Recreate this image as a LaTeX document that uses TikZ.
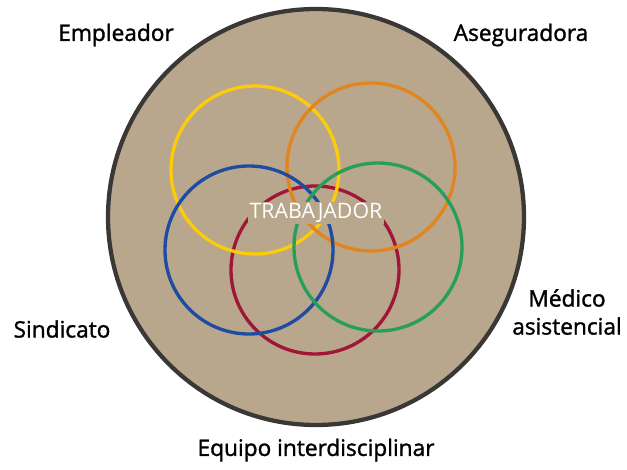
\documentclass[tikz,border=0pt]{standalone}
\usepackage{fontspec}
\setmainfont{Open Sans}
\newfontfamily\labelfont{Open Sans}[FakeBold=1.4]
\usepackage{tikz}
\usepackage{color}

\definecolor{bgbeige}{RGB}{185,167,141}
\definecolor{rimgray}{RGB}{58,56,54}
\definecolor{ringyellow}{RGB}{252,203,10}
\definecolor{ringorange}{RGB}{226,133,30}
\definecolor{ringblue}{RGB}{30,76,160}
\definecolor{ringgreen}{RGB}{40,158,92}
\definecolor{ringred}{RGB}{160,22,55}

\tikzset{
  ring/.style={line width=2.5pt},
  actor/.style={inner sep=0.75pt, font=\labelfont\fontsize{17}{21}\selectfont, align=center}
}

\begin{document}
\begin{tikzpicture}[x=0.75pt,y=0.75pt,yscale=-1,xscale=1]
\useasboundingbox (0,0) rectangle (627,470);

%Shape: Circle
\draw [draw=rimgray, line width=3.2pt, fill=bgbeige] (316,217) circle (208);

%Shape: Circle
\draw [ring, draw=ringred] (315,270) circle (84);
%Shape: Circle
\draw [ring, draw=ringyellow] (255,170) circle (84);
%Shape: Circle
\draw [ring, draw=ringorange] (371,167) circle (84);
%Shape: Circle
\draw [ring, draw=ringblue] (249,250) circle (84);
%Shape: Circle
\draw [ring, draw=ringgreen] (378,247) circle (84);

% Text Node
\node [inner sep=1pt, fill=bgbeige, text=white, font=\fontsize{16}{19}\selectfont] (trabajador) at (316,213) {TRABAJADOR};

% Text Node
\node [actor] (empleador) at (116,35) {Empleador};
% Text Node
\node [actor] (aseguradora) at (521,35) {Aseguradora};
% Text Node
\node [actor] (sindicato) at (62,329) {Sindicato};
% Text Node
\node [actor] (medico) at (567,312) {Médico\\asistencial};
% Text Node
\node [actor] (equipo) at (316,450) {Equipo interdisciplinar};

\end{tikzpicture}
\end{document}
